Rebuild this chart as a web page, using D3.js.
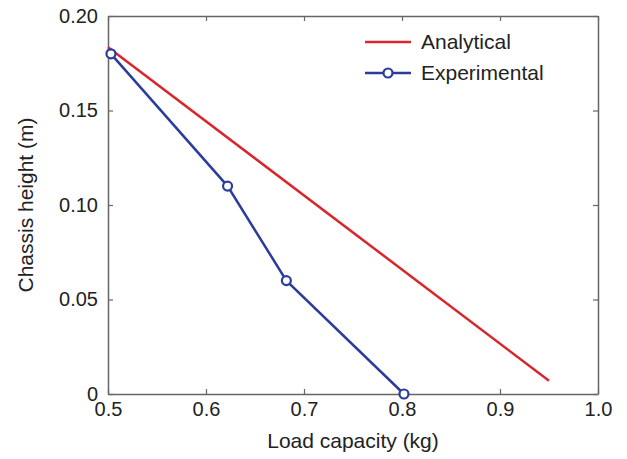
<!DOCTYPE html>
<html>
<head>
<meta charset="utf-8">
<script src="https://cdn.jsdelivr.net/npm/d3@7.9.0/dist/d3.min.js"></script>
<style>
  body { margin: 0; background: #fff; }
  svg text { font-family: "Liberation Sans", Arial, sans-serif; fill: #222; }
</style>
</head>
<body>
<svg id="chart" width="627" height="459"></svg>
<script>
// data
const analyticalX = [0.5, 0.95];
const analyticalY = [0.1835, 0.007];
const experimentalX = [0.503, 0.622, 0.682, 0.802];
const experimentalY = [0.18, 0.11, 0.06, 0.0];
const xTicks = [0.5, 0.6, 0.7, 0.8, 0.9, 1.0];
const yTicks = [0, 0.05, 0.10, 0.15, 0.20];
const seriesNames = ["Analytical", "Experimental"];

const red = "#d8262c";
const blue = "#2b3d9c";
const axisColor = "#666";

const svg = d3.select("#chart");
const margin = { left: 108, right: 29, top: 16, bottom: 65 };
const W = 627, H = 459;

const x = d3.scaleLinear().domain([0.5, 1.0]).range([margin.left, W - margin.right]);
const y = d3.scaleLinear().domain([0, 0.2]).range([H - margin.bottom, margin.top]);

const fmtX = d => d.toFixed(1);
const fmtY = d => d === 0 ? "0" : d.toFixed(2);

function styleAxis(g) {
  g.select(".domain").attr("stroke", axisColor).attr("stroke-width", 1.5);
  g.selectAll(".tick line").attr("stroke", axisColor).attr("stroke-width", 1.2);
  g.selectAll(".tick text").style("font-size", "20px").attr("fill", "#222");
}

// bottom & left with labels
svg.append("g")
  .attr("transform", `translate(0,${y(0)})`)
  .call(d3.axisBottom(x).tickValues(xTicks).tickFormat(fmtX).tickSizeInner(-5).tickSizeOuter(0).tickPadding(8))
  .call(styleAxis);

svg.append("g")
  .attr("transform", `translate(${x(0.5)},0)`)
  .call(d3.axisLeft(y).tickValues(yTicks).tickFormat(fmtY).tickSizeInner(-5).tickSizeOuter(0).tickPadding(10))
  .call(styleAxis);

// top & right without labels
svg.append("g")
  .attr("transform", `translate(0,${y(0.2)})`)
  .call(d3.axisTop(x).tickValues(xTicks).tickFormat("").tickSizeInner(-5).tickSizeOuter(0))
  .call(styleAxis);

svg.append("g")
  .attr("transform", `translate(${x(1.0)},0)`)
  .call(d3.axisRight(y).tickValues(yTicks).tickFormat("").tickSizeInner(-5).tickSizeOuter(0))
  .call(styleAxis);

// axis titles
svg.append("text")
  .attr("x", (x(0.5) + x(1.0)) / 2)
  .attr("y", 448)
  .attr("text-anchor", "middle")
  .style("font-size", "21px")
  .text("Load capacity (kg)");

svg.append("text")
  .attr("transform", `translate(33,${(y(0) + y(0.2)) / 2}) rotate(-90)`)
  .attr("text-anchor", "middle")
  .style("font-size", "21px")
  .text("Chassis height (m)");

const line = d3.line().x(d => x(d[0])).y(d => y(d[1]));

const analytical = d3.zip(analyticalX, analyticalY);
const experimental = d3.zip(experimentalX, experimentalY);

svg.append("path")
  .attr("d", line(analytical))
  .attr("fill", "none")
  .attr("stroke", red)
  .attr("stroke-width", 2.5);

svg.append("path")
  .attr("d", line(experimental))
  .attr("fill", "none")
  .attr("stroke", blue)
  .attr("stroke-width", 2.5);

svg.selectAll("circle.pt")
  .data(experimental)
  .join("circle")
  .attr("class", "pt")
  .attr("cx", d => x(d[0]))
  .attr("cy", d => y(d[1]))
  .attr("r", 4.5)
  .attr("fill", "#fff")
  .attr("stroke", blue)
  .attr("stroke-width", 2.2);

// legend
const legend = svg.append("g").attr("transform", "translate(365,42)");
seriesNames.forEach((name, i) => {
  const row = legend.append("g").attr("transform", `translate(0,${i * 31})`);
  row.append("line")
    .attr("x1", 0).attr("x2", 46)
    .attr("stroke", i === 0 ? red : blue)
    .attr("stroke-width", 2.5);
  if (i === 1) {
    row.append("circle")
      .attr("cx", 23).attr("cy", 0).attr("r", 4.5)
      .attr("fill", "#fff").attr("stroke", blue).attr("stroke-width", 2.2);
  }
  row.append("text")
    .attr("x", 56).attr("dy", "0.35em")
    .style("font-size", "21px")
    .text(name);
});
</script>
</body>
</html>
